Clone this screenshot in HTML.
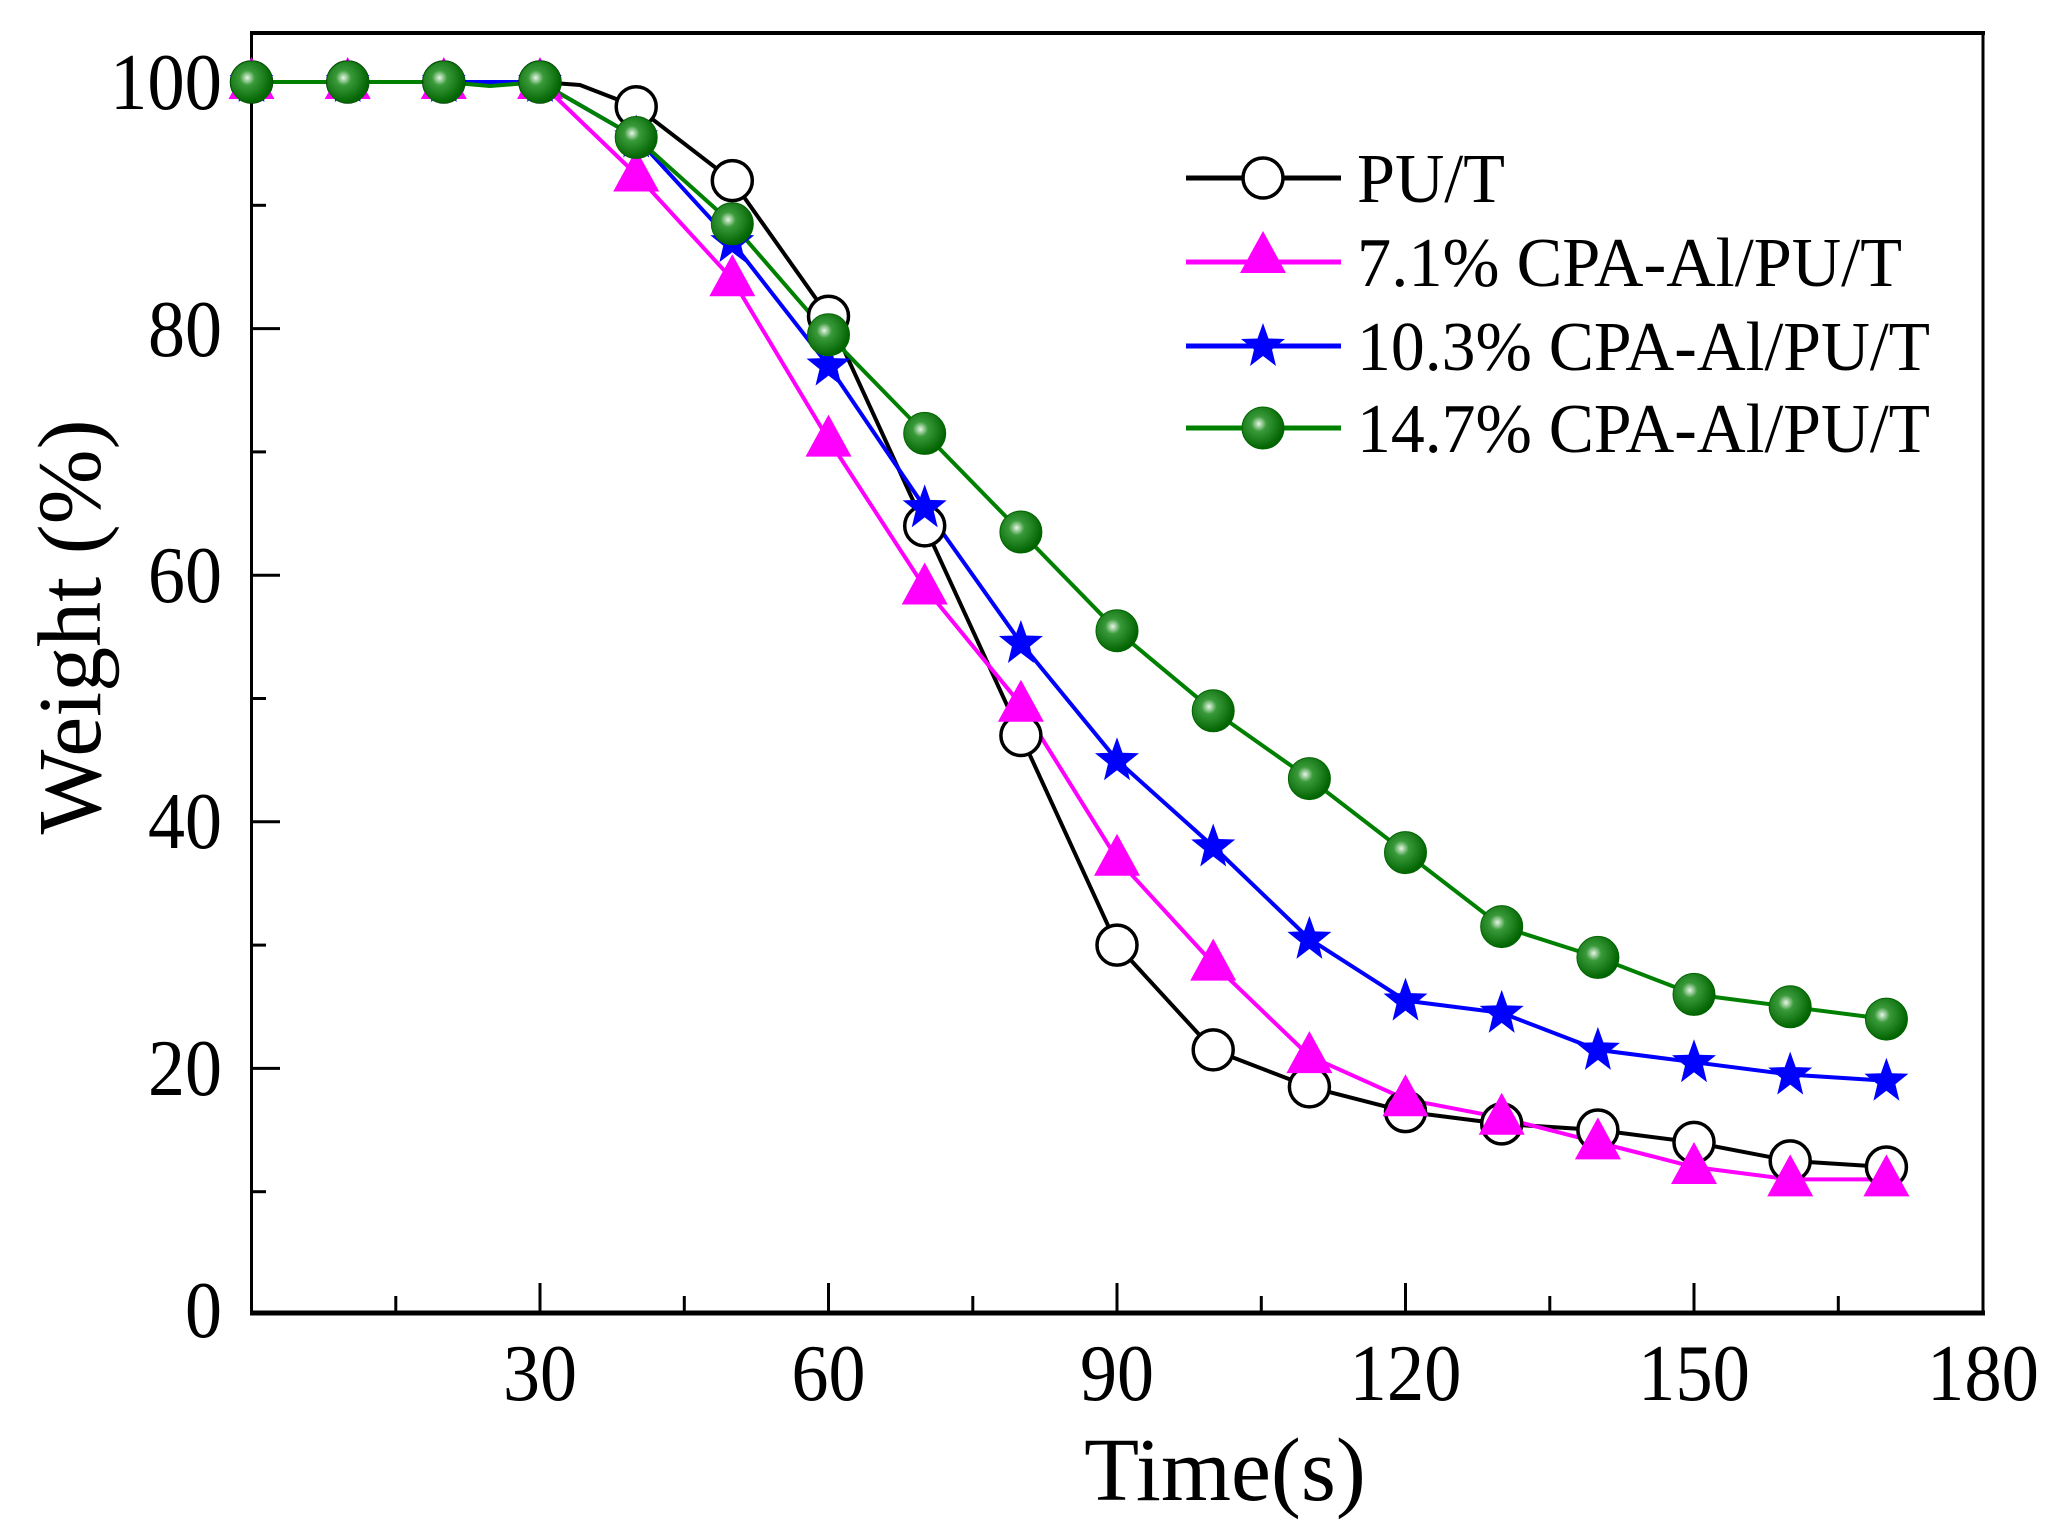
<!DOCTYPE html>
<html><head><meta charset="utf-8"><style>html,body{margin:0;padding:0;background:#fff}svg{display:block}</style></head>
<body>
<svg width="2056" height="1536" viewBox="0 0 2056 1536" xmlns="http://www.w3.org/2000/svg" font-family="'Liberation Serif', serif">
<defs>
<radialGradient id="gb" cx="0.4" cy="0.4" r="0.6">
<stop offset="0" stop-color="#e8f5e8"/><stop offset="0.3" stop-color="#3a9a3a"/><stop offset="1" stop-color="#006400"/></radialGradient>
<g id="mc"><circle r="20" fill="#fff" stroke="#000" stroke-width="3.5"/></g>
<g id="mt"><polygon points="0,-25 23,17 -23,17" fill="#ff00ff"/></g>
<g id="ms"><polygon points="0,-23 5.5,-7.5 22,-7 9,3.5 13,20 0,10 -13,20 -9,3.5 -22,-7 -5.5,-7.5" fill="#0000ff"/></g>
<g id="mg"><circle r="21" fill="url(#gb)" stroke="#006400" stroke-width="1"/></g>
</defs>
<rect width="2056" height="1536" fill="#fff"/>
<rect x="251.5" y="33" width="1731.5" height="1280" fill="none" stroke="#000" stroke-width="3"/>
<line x1="250" y1="1313" x2="1985" y2="1313" stroke="#000" stroke-width="5"/>
<line x1="250" y1="33" x2="1985" y2="33" stroke="#000" stroke-width="4"/>
<g stroke="#000" stroke-width="3">
<line x1="540" y1="1313" x2="540" y2="1283"/><line x1="828.5" y1="1313" x2="828.5" y2="1283"/><line x1="1117" y1="1313" x2="1117" y2="1283"/><line x1="1405.5" y1="1313" x2="1405.5" y2="1283"/><line x1="1694" y1="1313" x2="1694" y2="1283"/>
<line x1="395.8" y1="1313" x2="395.8" y2="1296"/><line x1="684.3" y1="1313" x2="684.3" y2="1296"/><line x1="972.8" y1="1313" x2="972.8" y2="1296"/><line x1="1261.3" y1="1313" x2="1261.3" y2="1296"/><line x1="1549.8" y1="1313" x2="1549.8" y2="1296"/><line x1="1838.3" y1="1313" x2="1838.3" y2="1296"/>
<line x1="251.5" y1="1068.4" x2="280" y2="1068.4"/><line x1="251.5" y1="821.8" x2="280" y2="821.8"/><line x1="251.5" y1="575.2" x2="280" y2="575.2"/><line x1="251.5" y1="328.6" x2="280" y2="328.6"/>
<line x1="251.5" y1="1191.7" x2="266" y2="1191.7"/><line x1="251.5" y1="945.1" x2="266" y2="945.1"/><line x1="251.5" y1="698.5" x2="266" y2="698.5"/><line x1="251.5" y1="451.9" x2="266" y2="451.9"/><line x1="251.5" y1="205.3" x2="266" y2="205.3"/>
</g>
<g font-size="80" fill="#000" text-anchor="end">
<text x="222" y="109" textLength="112" lengthAdjust="spacingAndGlyphs">100</text><text x="222" y="356" textLength="74" lengthAdjust="spacingAndGlyphs">80</text><text x="222" y="602" textLength="74" lengthAdjust="spacingAndGlyphs">60</text><text x="222" y="848" textLength="74" lengthAdjust="spacingAndGlyphs">40</text><text x="222" y="1095" textLength="74" lengthAdjust="spacingAndGlyphs">20</text><text x="222" y="1337" textLength="37" lengthAdjust="spacingAndGlyphs">0</text>
</g>
<g font-size="80" fill="#000" text-anchor="middle">
<text x="540" y="1400" textLength="74" lengthAdjust="spacingAndGlyphs">30</text><text x="828.5" y="1400" textLength="74" lengthAdjust="spacingAndGlyphs">60</text><text x="1117" y="1400" textLength="74" lengthAdjust="spacingAndGlyphs">90</text><text x="1405.5" y="1400" textLength="112" lengthAdjust="spacingAndGlyphs">120</text><text x="1694" y="1400" textLength="112" lengthAdjust="spacingAndGlyphs">150</text><text x="1983" y="1400" textLength="112" lengthAdjust="spacingAndGlyphs">180</text>
</g>
<text x="1225" y="1500" font-size="90" text-anchor="middle">Time(s)</text>
<text transform="translate(100,627) rotate(-90)" font-size="90" text-anchor="middle">Weight (%)</text>
<g fill="none" stroke-width="4" stroke-linejoin="round">
<polyline stroke="#000" points="251.5,82 347.7,82 443.8,82 540,82 580,85 636.2,106.7 732.3,180.6 828.5,316.3 924.7,525.9 1020.9,735.5 1117,945.1 1213.2,1049.9 1309.4,1086.9 1405.5,1111.6 1501.7,1123.9 1597.9,1130 1694,1142.4 1790.2,1160.9 1886.4,1167"/>
<polyline stroke="#ff00ff" points="251.5,82 347.7,82 443.8,82 540,82 636.2,174.5 732.3,279.3 828.5,439.6 924.7,587.5 1020.9,704.7 1117,858.8 1213.2,963.6 1309.4,1056.1 1405.5,1099.2 1501.7,1117.7 1597.9,1142.4 1694,1167 1790.2,1179.4 1886.4,1179.4"/>
<polyline stroke="#0000ff" points="251.5,82 347.7,82 443.8,82 540,82 636.2,137.5 732.3,242.3 828.5,365.6 924.7,507.4 1020.9,643 1117,760.2 1213.2,846.5 1309.4,938.9 1405.5,1000.6 1501.7,1012.9 1597.9,1049.9 1694,1062.2 1790.2,1074.6 1886.4,1080.7"/>
<polyline stroke="#008000" points="251.5,82 347.7,82 443.8,82 490,86 540,82 636.2,137.5 732.3,223.8 828.5,334.8 924.7,433.4 1020.9,532 1117,630.7 1213.2,710.8 1309.4,778.6 1405.5,852.6 1501.7,926.6 1597.9,957.4 1694,994.4 1790.2,1006.8 1886.4,1019.1"/>
</g>
<g>
<use href="#mc" x="251.5" y="82"/><use href="#mc" x="347.7" y="82"/><use href="#mc" x="443.8" y="82"/><use href="#mc" x="540" y="82"/><use href="#mc" x="636.2" y="106.7"/><use href="#mc" x="732.3" y="180.6"/><use href="#mc" x="828.5" y="316.3"/><use href="#mc" x="924.7" y="525.9"/><use href="#mc" x="1020.9" y="735.5"/><use href="#mc" x="1117" y="945.1"/><use href="#mc" x="1213.2" y="1049.9"/><use href="#mc" x="1309.4" y="1086.9"/><use href="#mc" x="1405.5" y="1111.6"/><use href="#mc" x="1501.7" y="1123.9"/><use href="#mc" x="1597.9" y="1130"/><use href="#mc" x="1694" y="1142.4"/><use href="#mc" x="1790.2" y="1160.9"/><use href="#mc" x="1886.4" y="1167"/>
<use href="#mt" x="251.5" y="82"/><use href="#mt" x="347.7" y="82"/><use href="#mt" x="443.8" y="82"/><use href="#mt" x="540" y="82"/><use href="#mt" x="636.2" y="174.5"/><use href="#mt" x="732.3" y="279.3"/><use href="#mt" x="828.5" y="439.6"/><use href="#mt" x="924.7" y="587.5"/><use href="#mt" x="1020.9" y="704.7"/><use href="#mt" x="1117" y="858.8"/><use href="#mt" x="1213.2" y="963.6"/><use href="#mt" x="1309.4" y="1056.1"/><use href="#mt" x="1405.5" y="1099.2"/><use href="#mt" x="1501.7" y="1117.7"/><use href="#mt" x="1597.9" y="1142.4"/><use href="#mt" x="1694" y="1167"/><use href="#mt" x="1790.2" y="1179.4"/><use href="#mt" x="1886.4" y="1179.4"/>
<use href="#ms" x="251.5" y="82"/><use href="#ms" x="347.7" y="82"/><use href="#ms" x="443.8" y="82"/><use href="#ms" x="540" y="82"/><use href="#ms" x="636.2" y="137.5"/><use href="#ms" x="732.3" y="242.3"/><use href="#ms" x="828.5" y="365.6"/><use href="#ms" x="924.7" y="507.4"/><use href="#ms" x="1020.9" y="643"/><use href="#ms" x="1117" y="760.2"/><use href="#ms" x="1213.2" y="846.5"/><use href="#ms" x="1309.4" y="938.9"/><use href="#ms" x="1405.5" y="1000.6"/><use href="#ms" x="1501.7" y="1012.9"/><use href="#ms" x="1597.9" y="1049.9"/><use href="#ms" x="1694" y="1062.2"/><use href="#ms" x="1790.2" y="1074.6"/><use href="#ms" x="1886.4" y="1080.7"/>
<use href="#mg" x="251.5" y="82"/><use href="#mg" x="347.7" y="82"/><use href="#mg" x="443.8" y="82"/><use href="#mg" x="540" y="82"/><use href="#mg" x="636.2" y="137.5"/><use href="#mg" x="732.3" y="223.8"/><use href="#mg" x="828.5" y="334.8"/><use href="#mg" x="924.7" y="433.4"/><use href="#mg" x="1020.9" y="532"/><use href="#mg" x="1117" y="630.7"/><use href="#mg" x="1213.2" y="710.8"/><use href="#mg" x="1309.4" y="778.6"/><use href="#mg" x="1405.5" y="852.6"/><use href="#mg" x="1501.7" y="926.6"/><use href="#mg" x="1597.9" y="957.4"/><use href="#mg" x="1694" y="994.4"/><use href="#mg" x="1790.2" y="1006.8"/><use href="#mg" x="1886.4" y="1019.1"/>
</g>
<g stroke-width="5">
<line x1="1186" y1="178" x2="1341" y2="178" stroke="#000"/>
<line x1="1186" y1="262" x2="1341" y2="262" stroke="#ff00ff"/>
<line x1="1186" y1="346" x2="1341" y2="346" stroke="#0000ff"/>
<line x1="1186" y1="428" x2="1341" y2="428" stroke="#008000"/>
</g>
<use href="#mc" x="1263" y="178"/><use href="#mt" x="1263" y="256"/><use href="#ms" x="1263" y="346"/><use href="#mg" x="1263" y="428"/>
<g font-size="70" fill="#000">
<text x="1357" y="202" textLength="148" lengthAdjust="spacingAndGlyphs">PU/T</text>
<text x="1357" y="286" textLength="545" lengthAdjust="spacingAndGlyphs">7.1% CPA-Al/PU/T</text>
<text x="1357" y="370" textLength="573" lengthAdjust="spacingAndGlyphs">10.3% CPA-Al/PU/T</text>
<text x="1357" y="452" textLength="573" lengthAdjust="spacingAndGlyphs">14.7% CPA-Al/PU/T</text>
</g>
</svg>
</body></html>
